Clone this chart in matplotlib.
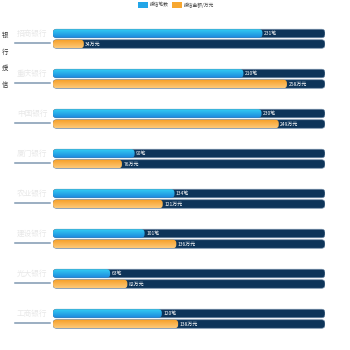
import numpy as np
import matplotlib
matplotlib.use("Agg")
import matplotlib.pyplot as plt
from matplotlib.patches import FancyBboxPatch, Patch

plt.rcParams['font.family'] = ['Noto Sans CJK SC', 'DejaVu Sans']

banks = ['招商银行', '重庆银行', '中国银行', '厦门银行', '农业银行', '建设银行', '光大银行', '工商银行']
counts = [231, 210, 230, 90, 134, 101, 63, 120]
amounts = [34, 258, 249, 76, 121, 136, 82, 138]
max_value = 300
legend_labels = ['授信笔数', '授信金额/万元']
side_title = '银行授信'

W, H = 350, 350
fig = plt.figure(figsize=(3.5, 3.5), dpi=100)
x0px, x1px = 53, 325
ax = fig.add_axes([x0px / W, 0, (x1px - x0px) / W, 1])
pitch = 40.0
top_center = 38.75
ax.set_xlim(0, max_value)
ax.set_ylim((H - top_center) / pitch, -top_center / pitch)
ax.axis('off')

ux = max_value / (x1px - x0px)   # data units per px in x
uy = 1 / pitch                   # data units per px in y
aspect = uy / ux
bh = 8.5 * uy
off = 5.25 * uy
r = 3.5 * ux

def grad_img(c_top, c_bot):
    a = np.array(matplotlib.colors.to_rgb(c_top))
    b = np.array(matplotlib.colors.to_rgb(c_bot))
    t = np.linspace(0, 1, 32)[:, None]
    return (a * (1 - t) + b * t)[:, None, :]

def rounded(xs, ys, w, h, **kw):
    p = FancyBboxPatch((xs, ys), w, h, boxstyle=f"round,pad=0,rounding_size={r}",
                       mutation_aspect=aspect, **kw)
    ax.add_patch(p)
    return p

y = np.arange(len(banks))
blue_img = grad_img('#33cdf4', '#1c86dc')
orange_img = grad_img('#f59c22', '#fdc978')

bars_bg1 = ax.barh(y - off, [max_value] * len(y), height=bh, color='none')
bars_bg2 = ax.barh(y + off, [max_value] * len(y), height=bh, color='none')
bars_c = ax.barh(y - off, counts, height=bh, color='none')
bars_a = ax.barh(y + off, amounts, height=bh, color='none')

for bset in (bars_bg1, bars_bg2):
    for b in bset:
        rounded(b.get_x(), b.get_y(), b.get_width(), b.get_height(),
                facecolor='#0d3459', edgecolor='#6f8aa6', linewidth=0.5, zorder=1)

for bset, img, fmt in ((bars_c, blue_img, '{}笔'), (bars_a, orange_img, '{}万元')):
    for b in bset:
        bx, by, bw, bhh = b.get_x(), b.get_y(), b.get_width(), b.get_height()
        clip = rounded(bx, by, bw, bhh, facecolor='none', edgecolor='none', zorder=2)
        im = ax.imshow(img, extent=[bx, bx + bw, by + bhh, by], aspect='auto', zorder=2,
                       interpolation='bilinear')
        im.set_clip_path(clip)
        ax.text(bx + bw + 1.5 * ux, by + bhh / 2, fmt.format(int(round(bw))),
                color='white', fontsize=3.6, va='center', ha='left', zorder=3)

ax.set_xlim(0, max_value)
ax.set_ylim((H - top_center) / pitch, -top_center / pitch)

# bank labels and underlines (figure coords)
for i, name in enumerate(banks):
    cy = top_center + pitch * i
    fig.text(32 / W, 1 - (cy - 4.5) / H, name, color='#e8e8e8', fontsize=5.5,
             ha='center', va='center')
    fig.add_artist(plt.Line2D([15 / W, 50 / W], [1 - (cy + 4.3) / H] * 2,
                              color='#8098b2', lw=1.1))

# side vertical title
for k, ch in enumerate(side_title):
    fig.text(5 / W, 1 - (35 + 16.5 * k) / H, ch, color='#333333', fontsize=4.6,
             ha='center', va='center')

handles = [Patch(facecolor='#23a6e8', edgecolor='none'),
           Patch(facecolor='#f7a730', edgecolor='none')]
fig.legend(handles, legend_labels, loc='center', bbox_to_anchor=(176 / W, 1 - 5 / H),
           ncol=2, frameon=False, fontsize=3.4, handlelength=2.2, handleheight=1.3,
           columnspacing=0.6, handletextpad=0.4, labelcolor='#444444')

fig.savefig('out.png', dpi=100, facecolor='white')
